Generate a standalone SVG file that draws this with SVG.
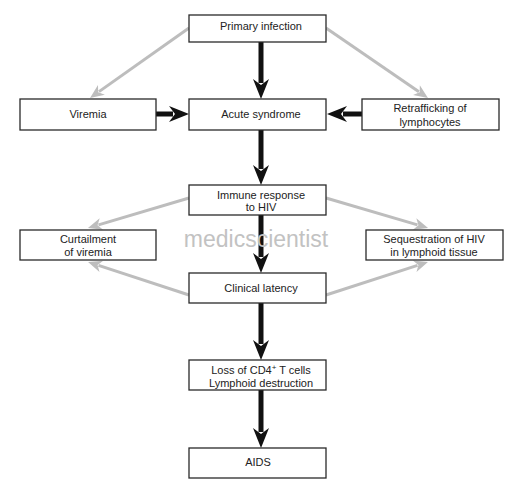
<svg xmlns="http://www.w3.org/2000/svg" width="520" height="480" viewBox="0 0 520 480">
<style>
.box{fill:#fff;stroke:#2a2a2a;stroke-width:1.3}
.t{font-family:"Liberation Sans",Arial,sans-serif;font-size:11px;fill:#222;text-anchor:middle}
.blk{stroke:#111;stroke-width:5;fill:none;marker-end:url(#ah)}
.gry{stroke:#bdbdbd;stroke-width:3;fill:none;marker-end:url(#gh)}
.wm{font-family:"Liberation Sans",Arial,sans-serif;font-size:23px;fill:#c2c2c2;text-anchor:middle}
</style>
<defs>
<marker id="ah" markerUnits="userSpaceOnUse" markerWidth="26" markerHeight="20" refX="8" refY="10" orient="auto">
<path d="M24,10 L4,2 L10,10 L4,18 Z" fill="#111"/>
</marker>
<marker id="gh" markerUnits="userSpaceOnUse" markerWidth="18" markerHeight="16" refX="5" refY="8" orient="auto">
<path d="M16,8 L2,2 L6,8 L2,14 Z" fill="#bdbdbd"/>
</marker>
</defs>
<rect width="520" height="480" fill="#fff"/>
<g id="connectors">
<line class="gry" x1="189" y1="28" x2="99" y2="91.6"/>
<line class="gry" x1="326" y1="28" x2="418.9" y2="91.8"/>
<line class="gry" x1="189" y1="198" x2="98.5" y2="224.9"/>
<line class="gry" x1="326" y1="198" x2="417.5" y2="224.9"/>
<line class="gry" x1="189" y1="295" x2="98.5" y2="265.4"/>
<line class="gry" x1="326" y1="295" x2="417.5" y2="265.4"/>
<line class="blk" x1="261" y1="42" x2="261" y2="83"/>
<line class="blk" x1="156" y1="114" x2="173" y2="114"/>
<line class="blk" x1="362" y1="114" x2="343" y2="114"/>
<line class="blk" x1="261" y1="130" x2="261" y2="169"/>
<line class="blk" x1="261" y1="215" x2="261" y2="257"/>
<line class="blk" x1="261" y1="303" x2="261" y2="344"/>
<line class="blk" x1="261" y1="390" x2="261" y2="432"/>
</g>
<g id="primary"><rect class="box" x="189" y="15" width="137" height="27"/><text class="t" x="261" y="30">Primary infection</text></g>
<g id="viremia"><rect class="box" x="20" y="99" width="136" height="31"/><text class="t" x="88" y="118">Viremia</text></g>
<g id="acute"><rect class="box" x="189" y="99" width="137" height="31"/><text class="t" x="261" y="118">Acute syndrome</text></g>
<g id="retrafficking"><rect class="box" x="362" y="99" width="137" height="31"/><text class="t" x="430" y="112">Retrafficking of</text><text class="t" x="430" y="126">lymphocytes</text></g>
<g id="immune"><rect class="box" x="189" y="185" width="137" height="30"/><text class="t" x="261" y="199">Immune response</text><text class="t" x="261" y="211">to HIV</text></g>
<g id="curtailment"><rect class="box" x="20" y="230" width="136" height="30"/><text class="t" x="88" y="243">Curtailment</text><text class="t" x="88" y="256">of viremia</text></g>
<g id="sequestration"><rect class="box" x="366" y="230" width="137" height="30"/><text class="t" x="434" y="243">Sequestration of HIV</text><text class="t" x="434" y="256">in lymphoid tissue</text></g>
<g id="clinical"><rect class="box" x="189" y="273" width="137" height="30"/><text class="t" x="261" y="292">Clinical latency</text></g>
<g id="loss"><rect class="box" x="189" y="360" width="137" height="30"/><text class="t" x="261" y="374">Loss of CD4<tspan font-size="8" dy="-4">+</tspan><tspan dy="4"> T cells</tspan></text><text class="t" x="261" y="387">Lymphoid destruction</text></g>
<g id="aids"><rect class="box" x="189" y="448" width="137" height="30"/><text class="t" x="258" y="466">AIDS</text></g>
<text class="wm" x="256" y="247">medicscientist</text>
</svg>
